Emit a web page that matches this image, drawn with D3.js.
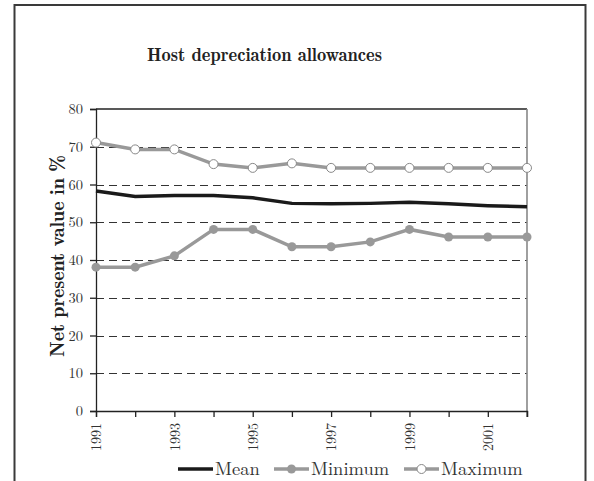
<!DOCTYPE html>
<html><head><meta charset="utf-8">
<script src="https://cdn.jsdelivr.net/npm/d3@7"></script>
<style>body{margin:0;background:#fff}svg{display:block}</style>
</head><body>
<script>
const years = [1991,1992,1993,1994,1995,1996,1997,1998,1999,2000,2001,2002];
const meanValues = [58.3,56.8,57.1,57.1,56.5,55.0,54.9,55.0,55.3,54.9,54.4,54.1];
const minValues  = [38.1,38.1,41.1,48.1,48.1,43.5,43.5,44.8,48.1,46.1,46.1,46.1];
const maxValues  = [71.1,69.3,69.3,65.4,64.4,65.6,64.4,64.4,64.4,64.4,64.4,64.4];
const yTicks = [0,10,20,30,40,50,60,70,80];
const xLabelYears = [1991,1993,1995,1997,1999,2001];
const title = "Host depreciation allowances";
const yTitle = "Net present value in %";
const seriesNames = ["Mean","Minimum","Maximum"];

const REG="'Latin Modern Roman','Liberation Serif',serif";
const BOLD="'Latin Modern Roman Demi','Liberation Serif',serif";
const W=594,H=481;
const svg=d3.select("body").append("svg").attr("width",W).attr("height",H);
svg.append("rect").attr("x",14.5).attr("y",5).attr("width",571).attr("height",500).attr("fill","none").attr("stroke","#3a3a3a").attr("stroke-width",2);

const x=d3.scaleLinear().domain([1991,2002]).range([96,527]);
const y=d3.scaleLinear().domain([0,80]).range([411,109]);

function fit(sel,target){const w=sel.node().getComputedTextLength();const fs=+sel.attr("font-size");sel.attr("font-size",fs*target/w);}

svg.append("g").selectAll("line").data(yTicks.filter(d=>d>0&&d<80)).join("line")
 .attr("x1",96).attr("x2",527).attr("y1",d=>Math.round(y(d))+0.5).attr("y2",d=>Math.round(y(d))+0.5)
 .attr("stroke","#333").attr("stroke-width",1).attr("stroke-dasharray","8,5");
svg.append("line").attr("x1",96).attr("x2",527).attr("y1",y(80)).attr("y2",y(80)).attr("stroke","#222").attr("stroke-width",1.3);
svg.append("line").attr("x1",527).attr("x2",527).attr("y1",y(80)).attr("y2",y(0)+6).attr("stroke","#888").attr("stroke-width",1.6);

const ya=svg.append("g").attr("transform","translate(96,0)").call(d3.axisLeft(y).tickValues(yTicks).tickSize(6).tickPadding(7));
ya.selectAll("text").attr("font-size",14.5).attr("font-family",REG).attr("fill","#333");
const xa=svg.append("g").attr("transform",`translate(0,${y(0)})`).call(d3.axisBottom(x).tickValues(years).tickSize(6).tickFormat(d=>xLabelYears.includes(d)?d:""));
xa.selectAll("text").attr("font-size",14).attr("font-family",REG).attr("fill","#333").attr("transform","rotate(-90)").attr("text-anchor","end").attr("x",-12).attr("y",0).attr("dy","0.35em");
svg.selectAll(".domain,.tick line").attr("stroke","#222").attr("stroke-width",1.3);

const tt=svg.append("text").attr("x",264.5).attr("y",61).attr("text-anchor","middle").attr("font-size",18).attr("font-family",BOLD).attr("fill","#222").text(title);
fit(tt,235);
const yt=svg.append("text").attr("transform","translate(64,256) rotate(-90)").attr("text-anchor","middle").attr("font-size",18).attr("font-family",BOLD).attr("fill","#222").text(yTitle);
fit(yt,202);

const line=d3.line().x((d,i)=>x(years[i])).y(d=>y(d));
svg.append("path").datum(maxValues).attr("d",line).attr("fill","none").attr("stroke","#999").attr("stroke-width",3.5);
svg.append("path").datum(minValues).attr("d",line).attr("fill","none").attr("stroke","#999").attr("stroke-width",3.5);
svg.append("path").datum(meanValues).attr("d",line).attr("fill","none").attr("stroke","#1a1a1a").attr("stroke-width",3.5);
svg.append("g").selectAll("circle").data(minValues).join("circle").attr("cx",(d,i)=>x(years[i])).attr("cy",d=>y(d)).attr("r",4.5).attr("fill","#999");
svg.append("g").selectAll("circle").data(maxValues).join("circle").attr("cx",(d,i)=>x(years[i])).attr("cy",d=>y(d)).attr("r",4.5).attr("fill","#fff").attr("stroke","#888").attr("stroke-width",1);

const lg=svg.append("g").attr("transform","translate(0,469)");
const items=[{n:seriesNames[0],x:178,c:"#1a1a1a",m:null},{n:seriesNames[1],x:274,c:"#999",m:"fill"},{n:seriesNames[2],x:404,c:"#999",m:"open"}];
items.forEach(it=>{
 lg.append("line").attr("x1",it.x).attr("x2",it.x+35).attr("y1",0).attr("y2",0).attr("stroke",it.c).attr("stroke-width",3.5);
 if(it.m) lg.append("circle").attr("cx",it.x+17.5).attr("cy",0).attr("r",4.5).attr("fill",it.m==="fill"?"#999":"#fff").attr("stroke",it.m==="fill"?"none":"#888");
 lg.append("text").attr("x",it.x+37).attr("y",6).attr("font-size",18.5).attr("font-family",REG).attr("fill","#333").text(it.n);
});
</script>
</body></html>
